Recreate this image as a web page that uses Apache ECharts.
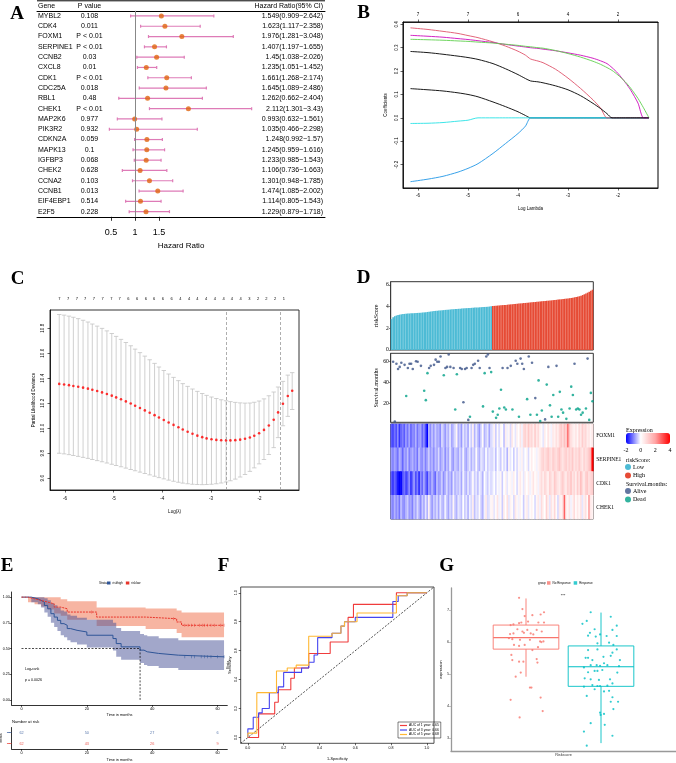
<!DOCTYPE html>
<html>
<head>
<meta charset="utf-8">
<title>Prognostic model figure</title>
<script src="https://cdn.jsdelivr.net/npm/echarts@6.0.0/dist/echarts.min.js"></script>
<style>
  html, body { margin: 0; padding: 0; background: #fff; }
  #fig { width: 676px; height: 763px; }
</style>
</head>
<body>
<div id="fig"></div>
<script>
var SANS = 'Liberation Sans, Arial, Helvetica, sans-serif';
var SERIF = 'Liberation Serif, Times New Roman, serif';

// ---------- A: univariate cox ----------
var coxGenes = ['MYBL2', 'CDK4', 'FOXM1', 'SERPINE1', 'CCNB2', 'CXCL8', 'CDK1', 'CDC25A', 'RBL1', 'CHEK1',
  'MAP2K6', 'PIK3R2', 'CDKN2A', 'MAPK13', 'IGFBP3', 'CHEK2', 'CCNA2', 'CCNB1', 'EIF4EBP1', 'E2F5'];
var coxP = ['0.108', '0.011', 'P < 0.01', 'P < 0.01', '0.03', '0.01', 'P < 0.01', '0.018', '0.48', 'P < 0.01',
  '0.977', '0.932', '0.059', '0.1', '0.068', '0.628', '0.103', '0.013', '0.514', '0.228'];
var coxHR = [1.549, 1.623, 1.976, 1.407, 1.45, 1.235, 1.661, 1.645, 1.262, 2.112,
  0.993, 1.035, 1.248, 1.245, 1.233, 1.106, 1.301, 1.474, 1.114, 1.229];
var coxLow = [0.909, 1.117, 1.281, 1.197, 1.038, 1.051, 1.268, 1.089, 0.662, 1.301,
  0.632, 0.466, 0.992, 0.959, 0.985, 0.736, 0.948, 1.085, 0.805, 0.879];
var coxHigh = [2.642, 2.358, 3.048, 1.655, 2.026, 1.452, 2.174, 2.486, 2.404, 3.43,
  1.561, 2.298, 1.57, 1.616, 1.543, 1.663, 1.785, 2.002, 1.543, 1.718];
var hrTicks = [0.5, 1, 1.5];

// ---------- B: lasso coefficient paths ----------
var lassoX = [-6.15, -5.8, -5.5, -5.2, -5.0, -4.8, -4.5, -4.25, -4.0, -3.85, -3.75, -3.6, -3.5,
  -3.25, -3.0, -2.75, -2.5, -2.35, -2.22, -2.12, -2.0, -1.85, -1.75, -1.6, -1.49, -1.38];
var coefBlack2 = [0.125, 0.12, 0.115, 0.107, 0.1, 0.09, 0.068, 0.048, 0.026, 0.01, 0, 0, 0,
  0, 0, 0, 0, 0, 0, 0, 0, 0, 0, 0, 0, 0];
var coefBlue = [-0.273, -0.262, -0.25, -0.232, -0.216, -0.196, -0.152, -0.11, -0.067, -0.035, 0, 0, 0,
  0, 0, 0, 0, 0, 0, 0, 0, 0, 0, 0, 0, 0];
var coefCyan = [-0.024, -0.023, -0.02, -0.014, -0.01, 0, 0, 0, 0, 0, 0, 0, 0,
  0, 0, 0, 0, 0, 0, 0, 0, 0, 0, 0, 0, 0];
var coefRed = [0.385, 0.378, 0.37, 0.361, 0.352, 0.343, 0.325, 0.307, 0.285, 0.268, 0.252, 0.243, 0.236,
  0.208, 0.17, 0.126, 0.077, 0.042, 0, 0, 0, 0, 0, 0, 0, 0];
var coefMagenta = [0.353, 0.349, 0.345, 0.339, 0.335, 0.33, 0.322, 0.314, 0.307, 0.303, 0.3, 0.297, 0.294,
  0.287, 0.278, 0.268, 0.255, 0.244, 0.232, 0.215, 0.19, 0.15, 0.12, 0.063, 0, 0];
var coefGreen = [0.336, 0.334, 0.332, 0.329, 0.327, 0.324, 0.32, 0.315, 0.31, 0.306, 0.304, 0.3, 0.298,
  0.288, 0.275, 0.26, 0.242, 0.229, 0.215, 0.203, 0.183, 0.153, 0.128, 0.083, 0.043, 0];
var coefBlack1 = [0.284, 0.279, 0.272, 0.264, 0.258, 0.25, 0.232, 0.21, 0.185, 0.168, 0.158, 0.154, 0.15,
  0.137, 0.12, 0.095, 0.062, 0.04, 0.018, 0, 0, 0, 0, 0, 0, 0];
var lassoTicks = [-6, -5, -4, -3, -2];
var lassoTopNz = [7, 7, 6, 4, 2];
var coefTicks = [-0.2, -0.1, 0, 0.1, 0.2, 0.3, 0.4];

// ---------- C: cross validation ----------
var cvX = [-6.12, -6.02, -5.92, -5.83, -5.73, -5.63, -5.53, -5.44, -5.34, -5.24,
  -5.14, -5.04, -4.95, -4.85, -4.75, -4.65, -4.56, -4.46, -4.36, -4.26,
  -4.16, -4.07, -3.97, -3.87, -3.77, -3.67, -3.58, -3.48, -3.38, -3.28,
  -3.18, -3.09, -2.99, -2.89, -2.79, -2.69, -2.60, -2.50, -2.40, -2.30,
  -2.20, -2.11, -2.01, -1.91, -1.81, -1.71, -1.62, -1.52, -1.42, -1.33];
var cvMean = [10.355, 10.35, 10.345, 10.338, 10.332, 10.325, 10.317, 10.308, 10.298, 10.287,
  10.274, 10.261, 10.247, 10.232, 10.215, 10.198, 10.18, 10.162, 10.143, 10.124,
  10.105, 10.086, 10.066, 10.046, 10.027, 10.008, 9.99, 9.972, 9.956, 9.941,
  9.929, 9.919, 9.912, 9.907, 9.904, 9.903, 9.903, 9.905, 9.909, 9.916,
  9.926, 9.94, 9.96, 9.987, 10.022, 10.068, 10.127, 10.196, 10.258, 10.3];
var cvUpper = [10.91, 10.905, 10.897, 10.888, 10.877, 10.864, 10.85, 10.834, 10.817, 10.799,
  10.779, 10.758, 10.735, 10.711, 10.686, 10.66, 10.633, 10.605, 10.577, 10.548,
  10.519, 10.49, 10.462, 10.434, 10.407, 10.381, 10.357, 10.335, 10.314, 10.295,
  10.278, 10.263, 10.25, 10.238, 10.228, 10.22, 10.213, 10.207, 10.203, 10.201,
  10.202, 10.208, 10.218, 10.235, 10.26, 10.29, 10.33, 10.375, 10.425, 10.445];
var cvLower = [9.8, 9.795, 9.789, 9.782, 9.775, 9.767, 9.759, 9.75, 9.741, 9.732,
  9.722, 9.712, 9.702, 9.692, 9.681, 9.67, 9.66, 9.649, 9.638, 9.627,
  9.616, 9.605, 9.595, 9.585, 9.576, 9.568, 9.561, 9.556, 9.552, 9.55,
  9.549, 9.55, 9.552, 9.556, 9.562, 9.57, 9.58, 9.593, 9.61, 9.63,
  9.655, 9.683, 9.715, 9.75, 9.79, 9.845, 9.925, 10.02, 10.095, 10.15];
var cvLambdaMin = -2.68;
var cvLambda1se = -1.57;
var cvTopX = [-6.12, -5.94, -5.76, -5.59, -5.41, -5.23, -5.05, -4.88, -4.70, -4.52,
  -4.34, -4.17, -3.99, -3.81, -3.63, -3.45, -3.28, -3.10, -2.92, -2.74,
  -2.57, -2.39, -2.21, -2.03, -1.86, -1.68, -1.50];
var cvTopNz = [7, 7, 7, 7, 7, 7, 7, 7, 6, 6, 6, 6, 6, 6, 4, 4, 4, 4, 4, 4, 4, 4, 3, 2, 2, 2, 1];
var cvTicks = [9.6, 9.8, 10.0, 10.2, 10.4, 10.6, 10.8];

// ---------- D: risk score, survival, heatmap ----------
var riskLow = [2.85, 3.02, 3.12, 3.18, 3.22, 3.26, 3.29, 3.31, 3.33, 3.35,
  3.36, 3.37, 3.38, 3.39, 3.40, 3.41, 3.42, 3.43, 3.44, 3.46,
  3.47, 3.49, 3.51, 3.53, 3.55, 3.57, 3.59, 3.61, 3.62, 3.64,
  3.65, 3.67, 3.68, 3.70, 3.71, 3.72, 3.74, 3.75, 3.76, 3.78,
  3.79, 3.80, 3.81, 3.83, 3.84, 3.85, 3.86, 3.87, 3.88, 3.89,
  3.90, 3.91, 3.92, 3.93, 3.94, 3.95, 3.96, 3.97, 3.98, 3.99,
  4.01, 4.03];
var riskHigh = [4.06, 4.07, 4.08, 4.10, 4.11, 4.12, 4.14, 4.15, 4.16, 4.18,
  4.19, 4.21, 4.22, 4.24, 4.25, 4.27, 4.28, 4.30, 4.31, 4.33,
  4.34, 4.36, 4.37, 4.39, 4.40, 4.42, 4.43, 4.45, 4.46, 4.48,
  4.49, 4.51, 4.52, 4.54, 4.55, 4.57, 4.58, 4.60, 4.62, 4.63,
  4.65, 4.67, 4.68, 4.70, 4.72, 4.74, 4.76, 4.78, 4.80, 4.83,
  4.86, 4.89, 4.92, 4.96, 5.01, 5.07, 5.14, 5.21, 5.29, 5.37,
  5.46, 5.56];
var aliveIdx = [1, 2, 3, 4, 5, 6, 8, 10, 11, 12, 13, 15, 16, 18, 23, 24, 26, 27, 28, 29,
  30, 33, 34, 35, 36, 38, 42, 43, 44, 45, 46, 47, 49, 50, 51, 53, 54, 58, 59, 60,
  68, 71, 73, 76, 77, 79, 80, 81, 84, 86, 88, 94, 96, 101, 112, 120];
var aliveMonths = [60, 2.5, 58, 53, 55, 59, 57, 54, 58, 58, 53, 60.5, 60, 56, 54, 56, 57, 62, 60, 60,
  65, 54, 55, 67, 55, 54, 54, 53, 21, 53, 54, 4, 54, 57, 58, 61, 54, 65, 67, 54,
  54, 54, 56, 61, 58, 63, 58, 53, 65, 59, 25, 4.5, 55, 56, 58, 63];
var deadIdx = [9, 20, 21, 22, 32, 39, 40, 48, 56, 57, 61, 62, 64, 65, 66, 67, 69, 70, 74, 78,
  83, 85, 89, 90, 91, 92, 95, 97, 98, 99, 102, 103, 104, 105, 107, 109, 110, 111, 113, 114,
  115, 116, 117, 119, 121, 122, 123];
var deadMonths = [27, 32, 23, 49, 47, 14, 48, 7, 17, 49, 50, 12, 6, 9, 15, 33, 16, 14, 14, 7,
  24, 9, 9, 42, 3, 13, 38, 18, 7, 28, 7, 31, 14, 11, 5, 15, 36, 28, 14, 15,
  14, 9, 11, 15, 4, 30, 22];
var survTicks = [20, 40, 60];
var heatGenes = ['FOXM1', 'SERPINE1', 'CDK1', 'CHEK1'];
var exprFOXM1 = [
  -1.3, -1.5, -1.1, -1.4, -0.9, -1.6, -1.2, -1.0, -1.3, -0.8,
  -1.1, -0.7, -1.2, -0.9, -1.0, -0.6, -1.1, -0.8, -0.7, -1.2,
  -0.9, -1.4, -2.0, -0.6, -0.9, -0.5, -0.8, -0.4, -0.7, -0.6,
  -0.9, -0.3, -0.5, -0.8, -0.4, -0.6, -0.2, -0.7, -0.5, -0.3,
  0.2, -0.6, -0.4, -0.8, -0.2, -0.5, -0.3, -0.7, -0.1, -0.4,
  0.3, -0.6, -0.2, -0.5, -0.8, -0.3, 0.1, -0.6, -0.4, -0.2,
  -0.7, -0.3,
  -0.2, 0.3, -0.4, 0.1, -0.3, 0.2, 0.0, -0.5, 0.4, -0.1,
  0.2, -0.3, 0.5, 0.1, -0.2, 0.3, 0.0, 0.6, -0.1, 0.8,
  1.0, 0.6, 1.2, 0.7, 0.9, 0.4, 1.1, 0.5, 0.8, 0.3,
  0.1, -0.2, 0.4, 0.0, 0.6, 0.2, -0.1, 0.5, 0.3, 0.7,
  0.4, 0.9, 1.2, 0.8, 1.4, 1.0, 2.6, 1.3, 0.7, 0.5,
  0.3, 0.6, 0.2, 0.8, 0.5, 1.1, 0.7, 0.9, 0.4, 0.6,
  0.2, 0.5];
var exprSERPINE1 = [
  -0.8, -1.0, -0.7, -0.9, -1.1, -0.6, -0.8, -1.2, -0.7, -0.9,
  -0.5, -1.0, -0.8, -0.6, -0.9, -0.7, -1.1, -0.5, -0.8, -0.9,
  -0.6, -1.0, -0.7, -0.4, -0.8, -0.6, -0.9, -0.5, -0.7, -0.3,
  -0.8, -0.6, -0.4, -0.9, -0.5, -0.7, -0.2, -0.6, -0.8, -0.4,
  -0.5, -0.7, -0.3, -0.6, -0.1, -0.5, -0.7, -0.4, -0.2, -0.6,
  -0.3, -0.5, 0.1, -0.4, -0.6, -0.2, -0.3, -0.5, 0.0, -0.4,
  -0.2, -0.3,
  -0.3, -0.1, -0.5, 0.0, -0.2, -0.4, 0.1, -0.3, -0.1, -0.6,
  0.2, -0.2, 0.0, -0.4, 0.1, -0.3, 0.2, -0.1, 0.3, -0.2,
  0.0, 0.2, -0.3, 0.1, 0.4, 0.0, 0.2, -0.1, 0.3, 0.5,
  0.8, 1.0, 0.7, 0.9, 1.2, 0.8, 0.6, 1.1, 0.9, 0.7,
  1.0, 1.3, 0.8, 0.6, 0.9, 1.1, 0.7, 1.0, 0.8, 1.2,
  0.6, 0.9, 0.7, 1.1, 0.8, 0.5, 1.0, 0.7, 0.9, 1.2,
  1.6, 4.0];
var exprCDK1 = [
  -1.3, -1.6, -1.2, -1.5, -1.8, -2.3, -2.0, -1.4, -1.1, -1.5,
  -1.3, -0.9, -1.6, -1.2, -0.8, -1.4, -1.0, -1.7, -0.9, -1.2,
  -0.7, -1.1, -1.5, -0.8, -1.0, -0.6, -0.9, -1.2, -0.5, -0.8,
  -0.7, -0.4, -0.9, -0.6, -0.3, -0.7, -0.5, -0.8, -0.2, -0.6,
  -0.4, -0.5, -0.3, -0.7, -0.1, -0.4, -0.6, -0.2, -0.5, -0.3,
  0.1, -0.4, -0.2, -0.5, -0.1, -0.3, -0.6, 0.0, -0.2, -0.4,
  -0.1, -0.3,
  -0.2, 0.0, -0.3, 0.1, -0.1, 0.2, -0.4, 0.0, 0.3, -0.2,
  0.1, 0.2, -0.1, 0.4, 0.0, -0.3, 0.2, 0.5, 0.1, -0.2,
  0.3, 0.0, 0.4, -0.1, 0.2, 0.6, 0.1, 0.3, -0.1, 0.5,
  0.8, 0.4, 0.9, 0.6, 0.3, 1.0, 0.7, 0.5, 1.2, 0.8,
  0.6, 0.4, 0.9, 1.1, 0.7, 0.5, 1.0, 0.8, 1.3, 0.6,
  0.9, 0.4, 1.1, 0.7, 1.4, 0.8, 0.5, 1.0, 1.2, 0.7,
  0.9, 1.1];
var exprCHEK1 = [
  -0.8, -1.0, -0.6, -0.9, -0.7, -1.1, -0.5, -0.8, -0.9, -0.6,
  -0.4, -0.8, -0.7, -1.0, -0.5, -0.7, -0.3, -0.6, -0.9, -0.4,
  -0.7, -0.2, -0.6, 0.3, -0.5, -0.8, -0.4, -0.6, -0.3, -0.7,
  -0.2, -0.5, -0.6, -0.1, -0.4, -0.7, -0.3, -0.5, 0.2, -0.4,
  -0.6, -0.2, -0.3, -0.5, 0.0, -0.4, -0.2, -0.6, -0.1, -0.3,
  0.4, -0.5, -0.2, -0.3, 0.1, -0.4, -0.6, -0.1, 0.5, -0.3,
  -0.2, 0.2,
  0.3, -0.2, 0.1, 0.6, -0.1, 0.2, -0.4, 0.4, 0.0, 0.7,
  -0.2, 0.3, 0.1, -0.3, 0.5, 0.2, -0.1, 0.3, 0.0, -0.4,
  0.2, 0.4, -0.2, 0.1, 0.3, 0.0, -0.3, 0.2, 0.5, -0.1,
  0.8, 0.3, 0.0, 1.0, 0.4, -0.2, 0.6, 0.2, 0.9, 0.1,
  -0.3, 0.5, 0.3, 0.7, 2.8, 0.4, 0.2, 0.6, -0.1, 0.3,
  0.8, 0.1, 0.5, 0.2, 0.6, -0.2, 0.4, 0.7, 0.1, 2.0,
  0.5, 0.3];
var exprTicks = [-2, 0, 2, 4];

// ---------- E: Kaplan-Meier ----------
var highT = [0, 3, 5, 6, 7, 8, 9, 10, 11, 12, 13, 14, 15, 17, 20, 28, 29, 30.5, 36.3, 37.5, 38.5, 42, 48];
var highS = [1.0, 0.984, 0.968, 0.952, 0.919, 0.887, 0.839, 0.806, 0.774, 0.742, 0.726, 0.694, 0.677,
  0.661, 0.629, 0.597, 0.548, 0.516, 0.484, 0.468, 0.452, 0.435, 0.419];
var highUp = [1.0, 1.0, 1.0, 1.0, 0.99, 0.97, 0.94, 0.92, 0.9, 0.87, 0.86, 0.83, 0.82,
  0.8, 0.78, 0.75, 0.7, 0.67, 0.64, 0.63, 0.62, 0.6, 0.58];
var highLo = [1.0, 0.95, 0.93, 0.9, 0.85, 0.81, 0.75, 0.71, 0.67, 0.63, 0.61, 0.58, 0.56,
  0.54, 0.51, 0.48, 0.42, 0.39, 0.36, 0.34, 0.33, 0.31, 0.29];
var lowT = [0, 2, 4, 6, 8, 10, 12, 14, 23, 38, 47.5, 49];
var lowS = [1.0, 0.984, 0.968, 0.952, 0.935, 0.903, 0.887, 0.855, 0.806, 0.79, 0.758, 0.726];
var lowUp = [1.0, 1.0, 1.0, 1.0, 1.0, 1.0, 0.98, 0.96, 0.9, 0.89, 0.87, 0.85];
var lowLo = [1.0, 0.95, 0.93, 0.91, 0.88, 0.84, 0.82, 0.78, 0.72, 0.69, 0.65, 0.61];
var kmEnd = 62;
var highCensor = [50, 52, 53, 55, 56, 57, 58, 60, 62];
var lowCensor = [21.5, 46.5, 50, 51, 52, 53, 54.5, 55.5, 56, 57, 58, 59, 61, 62];
var medianHigh = 36.3;
var riskTimes = [0, 20, 40, 60];
var highAtRisk = [62, 50, 27, 6];
var lowAtRisk = [62, 43, 26, 9];
var survProbTicks = [0, 0.25, 0.5, 0.75, 1];

// ---------- F: time dependent ROC ----------
var roc1 = [[0, 0], [0.06, 0], [0.06, 0.163], [0.15, 0.163], [0.15, 0.244], [0.17, 0.244], [0.17, 0.33],
  [0.24, 0.33], [0.24, 0.41], [0.26, 0.41], [0.26, 0.48], [0.34, 0.48], [0.34, 0.58], [0.46, 0.58],
  [0.46, 0.66], [0.56, 0.66], [0.56, 0.83], [0.59, 0.83], [0.59, 0.92], [0.83, 0.92], [0.83, 1], [1, 1]];
var roc3 = [[0, 0], [0, 0.06], [0.03, 0.06], [0.03, 0.14], [0.06, 0.14], [0.06, 0.17], [0.08, 0.17],
  [0.08, 0.2], [0.12, 0.2], [0.12, 0.31], [0.17, 0.31], [0.17, 0.35], [0.2, 0.35], [0.2, 0.45],
  [0.3, 0.45], [0.3, 0.48], [0.34, 0.48], [0.34, 0.52], [0.37, 0.52], [0.37, 0.57], [0.39, 0.57],
  [0.39, 0.69], [0.47, 0.69], [0.47, 0.72], [0.52, 0.72], [0.52, 0.77], [0.54, 0.77], [0.54, 0.8],
  [0.6, 0.8], [0.6, 0.83], [0.81, 0.83], [0.81, 0.94], [0.84, 0.94], [0.84, 0.98], [0.89, 0.98],
  [0.89, 1], [1, 1]];
var roc5 = [[0, 0], [0, 0.03], [0.05, 0.03], [0.05, 0.31], [0.16, 0.31], [0.16, 0.46], [0.22, 0.46],
  [0.22, 0.48], [0.27, 0.48], [0.27, 0.5], [0.34, 0.5], [0.34, 0.7], [0.47, 0.7], [0.47, 0.72],
  [0.52, 0.72], [0.52, 0.77], [0.54, 0.77], [0.54, 0.8], [0.61, 0.8], [0.61, 0.86], [0.83, 0.86],
  [0.83, 0.98], [0.89, 0.98], [0.89, 1], [1, 1]];
var rocNames = ['AUC of 1 year: 0.65', 'AUC of 3 year: 0.66', 'AUC of 5 year: 0.68'];
var rocTicks = [0, 0.2, 0.4, 0.6, 0.8, 1.0];

// ---------- G: risk score by response ----------
var groupNames = ['No Response', 'Response'];
var groupPos = [0.8, 1.2];
var noRespBox = [4.92, 5.78, 6.14, 6.53, 7.36];
var respBox = [2.85, 4.62, 5.23, 5.88, 6.92];
var noRespJit = [-0.037, -0.019, -0.007, 0.034, 0.078, 0.096, -0.025, -0.037, -0.082, -0.067,
  0.011, 0.066, 0.096, -0.046, -0.019, 0.007, 0.057, -0.085, -0.067, -0.011,
  0.025, 0.039, 0.084, -0.091, -0.073, -0.032, 0.021, 0.075, 0.082, 0.093,
  -0.064, -0.037, -0.007, 0.064, 0.034, -0.078, -0.073, -0.037, -0.014, 0.057,
  0.061, -0.028, -0.055, 0.021, 0.029, -0.082, 0.078, 0.089, -0.034];
var noRespExpr = [7.38, 7.03, 6.81, 6.84, 6.86, 6.93, 6.61, 6.59, 6.53, 6.55,
  6.64, 6.61, 6.61, 6.40, 6.33, 6.38, 6.38, 6.25, 6.27, 6.29,
  6.27, 6.24, 6.33, 6.12, 6.09, 6.07, 6.07, 6.02, 6.00, 6.02,
  5.91, 5.88, 5.91, 5.84, 5.75, 5.60, 5.44, 5.39, 5.39, 5.47,
  5.36, 5.05, 4.92, 4.58, 4.58, 4.20, 4.27, 3.85, 3.65];
var respJit = [-0.055, 0.052, -0.076, -0.099, 0.084, -0.034, 0.061, -0.059, -0.069, -0.028,
  -0.005, 0.030, 0.084, 0.043, -0.019, 0.066, -0.069, -0.019, 0.084, 0.061,
  -0.082, -0.069, 0.013, 0.052, -0.046, 0.101, 0.016, -0.055, -0.023, -0.005,
  0.034, 0.096, -0.091, -0.034, -0.019, 0.007, -0.069, 0.087, -0.087, -0.055,
  -0.011, 0.048, 0.061, -0.046, -0.019, -0.005, 0.034, -0.091, -0.034, 0.016,
  0.043, -0.076, 0.061, 0.091, 0.052, 0.066, -0.005, -0.002, 0.016, -0.055,
  0.020, -0.091, 0.061, -0.076];
var respExpr = [6.93, 6.79, 6.66, 6.57, 6.51, 6.40, 6.38, 6.29, 6.20, 6.17,
  6.24, 6.19, 6.19, 5.98, 5.96, 5.91, 5.75, 5.77, 5.77, 5.67,
  5.51, 5.51, 5.54, 5.57, 5.44, 5.44, 5.34, 5.28, 5.28, 5.26,
  5.28, 5.25, 5.21, 5.10, 5.10, 5.13, 5.06, 5.05, 4.87, 4.84,
  4.82, 4.84, 4.71, 4.66, 4.63, 4.63, 4.64, 4.61, 4.53, 4.46,
  4.48, 4.32, 4.28, 4.14, 4.14, 3.91, 3.80, 3.73, 3.76, 3.47,
  3.42, 3.21, 3.08, 2.77];
var exprAxisTicks = [3, 4, 5, 6, 7];

// ---------- helpers ----------
function merge(a, b) {
  for (var k in b) {
    if (b[k] && typeof b[k] === 'object' && !Array.isArray(b[k]) && a[k] && typeof a[k] === 'object') {
      merge(a[k], b[k]);
    } else {
      a[k] = b[k];
    }
  }
  return a;
}
function ax(o) {
  var base = {
    splitLine: {show: false},
    axisLine: {show: true, onZero: false, lineStyle: {color: '#000', width: 0.8}},
    axisTick: {show: true, length: 2, lineStyle: {color: '#000', width: 0.6}},
    axisLabel: {fontSize: 4.5, color: '#000', fontFamily: SANS, margin: 3},
    nameTextStyle: {fontSize: 4.5, color: '#000', fontFamily: SANS}
  };
  return merge(base, o);
}
function ticks(list, extra) {
  return merge({axisTick: {customValues: list}, axisLabel: {customValues: list}}, extra || {});
}
function pairs(xs, ys) {
  return xs.map(function (x, i) { return [x, ys[i]]; });
}
function stepAt(T, S, t) {
  var v = S[0];
  for (var i = 0; i < T.length; i++) { if (T[i] <= t) v = S[i]; }
  return v;
}

var patientIdx = [];
for (var p = 0; p < riskLow.length + riskHigh.length; p++) patientIdx.push(p);

// ---------- grids ----------
var grids = [
  {left: 37, top: 10.8, width: 288, height: 206},                       // 0 A
  {left: 403, top: 22, width: 255, height: 166, show: true, borderColor: '#000', borderWidth: 1}, // 1 B
  {left: 50, top: 310, width: 249, height: 180, show: true, borderColor: '#333', borderWidth: 1}, // 2 C
  {left: 390.7, top: 281.7, width: 202.6, height: 68.3, show: true, borderColor: '#333', borderWidth: 1}, // 3 D bars
  {left: 390.7, top: 353.3, width: 202.6, height: 69, show: true, borderColor: '#333', borderWidth: 1},   // 4 D scatter
  {left: 390.7, top: 424, width: 202.6, height: 95, show: true, borderColor: '#333', borderWidth: 1},     // 5 D heat
  {left: 626, top: 444, width: 44, height: 1},                          // 6 D scale
  {left: 11.7, top: 592, width: 215.6, height: 113},                    // 7 E
  {left: 11.7, top: 727.5, width: 215.6, height: 21.5},                 // 8 E table
  {left: 240.7, top: 587, width: 193.3, height: 156.3, show: true, borderColor: '#222', borderWidth: 0.8}, // 9 F
  {left: 451, top: 588, width: 225, height: 163}                        // 10 G
];
grids.forEach(function (g) { g.outerBoundsMode = 'none'; g.containLabel = false; });

// ---------- axes ----------
var xAxes = [
  ax(merge(ticks(hrTicks), {type: 'value', gridIndex: 0, min: -1.0417, max: 4.9583,
    axisLine: {lineStyle: {width: 1}}, axisTick: {length: 4, lineStyle: {width: 0.8}},
    axisLabel: {fontSize: 9, margin: 11},
    name: 'Hazard Ratio', nameLocation: 'middle', nameGap: 25, nameTextStyle: {fontSize: 8}})),
  ax({type: 'value', gridIndex: 0, position: 'top', min: -1.0417, max: 4.9583,
    axisLine: {lineStyle: {width: 1}}, axisTick: {show: false}, axisLabel: {show: false}}),
  ax(merge(ticks(lassoTicks), {type: 'value', gridIndex: 1, min: -6.3, max: -1.2,
    axisTick: {length: 2.5}, axisLabel: {margin: 5},
    name: 'Log Lambda', nameLocation: 'middle', nameGap: 18})),
  ax(merge(ticks(lassoTicks), {type: 'value', gridIndex: 1, position: 'top', min: -6.3, max: -1.2,
    axisTick: {length: 2.5}, axisLabel: {margin: 5, formatter: function (v) {
      var i = lassoTicks.indexOf(v); return i < 0 ? '' : String(lassoTopNz[i]);
    }}})),
  ax(merge(ticks(lassoTicks), {type: 'value', gridIndex: 2, min: -6.31, max: -1.19,
    axisTick: {length: 2.5}, axisLabel: {margin: 6},
    name: 'Log(\u03bb)', nameLocation: 'middle', nameGap: 19})),
  ax(merge(ticks(cvTopX), {type: 'value', gridIndex: 2, position: 'top', min: -6.31, max: -1.19,
    axisLine: {show: false}, axisTick: {show: false},
    axisLabel: {margin: 9, fontSize: 4, formatter: function (v) {
      var i = cvTopX.indexOf(v); return i < 0 ? '' : String(cvTopNz[i]);
    }}})),
  {type: 'category', gridIndex: 3, data: patientIdx, show: false},
  {type: 'value', gridIndex: 4, min: -0.5, max: patientIdx.length - 0.5, show: false, splitLine: {show: false}},
  {type: 'category', gridIndex: 5, data: patientIdx, show: false},
  ax(merge(ticks(exprTicks), {type: 'value', gridIndex: 6, min: -2, max: 4,
    axisLine: {show: false}, axisTick: {length: 2, inside: true, lineStyle: {color: '#fff', width: 0.8}},
    axisLabel: {fontFamily: SERIF, fontSize: 6, margin: 2}})),
  ax(merge(ticks(riskTimes), {type: 'value', gridIndex: 7, min: -3, max: 63,
    axisLabel: {fontSize: 3.8, margin: 2},
    name: 'Time in months', nameLocation: 'middle', nameGap: 8, nameTextStyle: {fontSize: 3.8}})),
  ax(merge(ticks(riskTimes), {type: 'value', gridIndex: 8, min: -3, max: 63,
    axisLabel: {fontSize: 3.8, margin: 2},
    name: 'Time in months', nameLocation: 'middle', nameGap: 9, nameTextStyle: {fontSize: 3.8}})),
  ax(merge(ticks(rocTicks), {type: 'value', gridIndex: 9, min: -0.04, max: 1.04,
    axisLine: {show: false}, axisLabel: {fontSize: 3.6, margin: 3, formatter: function (v) { return v.toFixed(1); }},
    name: '1-Specificity', nameLocation: 'middle', nameGap: 14, nameTextStyle: {fontSize: 3.8}})),
  ax(merge(ticks([1]), {type: 'value', gridIndex: 10, min: 0.4, max: 1.6,
    axisLine: {lineStyle: {color: '#999', width: 1.3}}, axisTick: {lineStyle: {color: '#999'}},
    axisLabel: {fontSize: 3.8, color: '#333', margin: 2, formatter: function () { return 'Riskscore'; }}}))
];

var yAxes = [
  {type: 'category', gridIndex: 0, data: coxGenes, inverse: true,
    axisLine: {show: false}, axisTick: {show: false}, splitLine: {show: false},
    axisLabel: {inside: true, margin: 1, align: 'left', fontSize: 7, color: '#000', fontFamily: SANS}},
  {type: 'category', gridIndex: 0, data: coxGenes, inverse: true, position: 'right',
    axisLine: {show: false}, axisTick: {show: false}, splitLine: {show: false},
    axisLabel: {inside: true, margin: 2, align: 'right', fontSize: 7, color: '#000', fontFamily: SANS,
      formatter: function (v, i) { return coxHR[i] + '(' + coxLow[i] + '\u2212' + coxHigh[i] + ')'; }}},
  {type: 'category', gridIndex: 0, data: coxGenes, inverse: true, position: 'left', offset: -52.5,
    axisLine: {show: false}, axisTick: {show: false}, splitLine: {show: false},
    axisLabel: {margin: 0, align: 'center', fontSize: 7, color: '#000', fontFamily: SANS,
      formatter: function (v, i) { return coxP[i]; }}},
  ax(merge(ticks(coefTicks), {type: 'value', gridIndex: 1, min: -0.3, max: 0.41,
    axisTick: {length: 2.5}, axisLabel: {rotate: 90, margin: 4, formatter: function (v) { return v.toFixed(1); }},
    name: 'Coefficients', nameLocation: 'middle', nameGap: 15})),
  ax(merge(ticks(cvTicks), {type: 'value', gridIndex: 2, min: 9.506, max: 10.946,
    axisTick: {length: 2.5}, axisLabel: {rotate: 90, margin: 5, formatter: function (v) { return v.toFixed(1); }},
    name: 'Partial Likelihood Deviance', nameLocation: 'middle', nameGap: 14})),
  ax(merge(ticks([0, 2, 4, 6]), {type: 'value', gridIndex: 3, min: 0, max: 6.3,
    axisLine: {lineStyle: {color: '#333'}}, axisTick: {lineStyle: {color: '#333'}},
    axisLabel: {fontFamily: SERIF, fontSize: 5.5, margin: 2},
    name: 'riskScore', nameLocation: 'middle', nameGap: 11, nameTextStyle: {fontFamily: SERIF, fontSize: 6}})),
  ax(merge(ticks(survTicks), {type: 'value', gridIndex: 4, min: 1.7, max: 68.1,
    axisLine: {lineStyle: {color: '#333'}}, axisTick: {lineStyle: {color: '#333'}},
    axisLabel: {fontFamily: SERIF, fontSize: 5.5, margin: 2},
    name: 'Survival.months', nameLocation: 'middle', nameGap: 10, nameTextStyle: {fontFamily: SERIF, fontSize: 6}})),
  {type: 'category', gridIndex: 5, data: heatGenes, inverse: true, position: 'right',
    axisLine: {show: false}, axisTick: {show: false}, splitLine: {show: false},
    axisLabel: {fontFamily: SERIF, fontSize: 5.5, color: '#000', margin: 3}},
  {type: 'value', gridIndex: 6, show: false, splitLine: {show: false}},
  ax(merge(ticks(survProbTicks), {type: 'value', gridIndex: 7, min: -0.05, max: 1.05,
    axisLabel: {fontSize: 3.6, margin: 2, formatter: function (v) { return v.toFixed(2); }},
    name: 'Survival probability', nameLocation: 'middle', nameGap: 8, nameTextStyle: {fontSize: 3.6}})),
  ax({type: 'category', gridIndex: 8, data: ['riskhigh', 'risklow'], inverse: true,
    axisTick: {show: false},
    axisLabel: {margin: 1, formatter: function (v) { return v === 'riskhigh' ? '{h|\u2501\u2501}' : '{l|\u2501\u2501}'; },
      rich: {h: {color: '#2f5597', fontSize: 4}, l: {color: '#e8342a', fontSize: 4}}},
    name: 'Strata', nameLocation: 'middle', nameGap: 7, nameTextStyle: {fontSize: 3.6}}),
  ax(merge(ticks(rocTicks), {type: 'value', gridIndex: 9, min: -0.04, max: 1.04,
    axisLine: {show: false}, axisLabel: {fontSize: 3.6, rotate: 90, margin: 3, formatter: function (v) { return v.toFixed(1); }},
    name: 'Sensitivity', nameLocation: 'middle', nameGap: 9, nameTextStyle: {fontSize: 3.8}})),
  ax(merge(ticks(exprAxisTicks), {type: 'value', gridIndex: 10, min: 2.604, max: 7.686,
    axisLine: {lineStyle: {color: '#999', width: 1.3}}, axisTick: {lineStyle: {color: '#999'}},
    axisLabel: {fontSize: 3.8, color: '#333', margin: 2},
    name: 'expression', nameLocation: 'middle', nameGap: 7, nameTextStyle: {fontSize: 3.8}}))
];

// ---------- series ----------
var series = [];

// A
series.push({
  type: 'custom', xAxisIndex: 0, yAxisIndex: 0, silent: true,
  encode: {x: [0, 1], y: 2},
  data: coxGenes.map(function (g, i) { return [coxLow[i], coxHigh[i], i]; }),
  renderItem: function (params, api) {
    var y = api.value(2);
    var a = api.coord([api.value(0), y]);
    var b = api.coord([api.value(1), y]);
    var st = {stroke: '#de7bb7', lineWidth: 1.2};
    return {type: 'group', children: [
      {type: 'line', shape: {x1: a[0], y1: a[1], x2: b[0], y2: b[1]}, style: st},
      {type: 'line', shape: {x1: a[0], y1: a[1] - 1.5, x2: a[0], y2: a[1] + 1.5}, style: st},
      {type: 'line', shape: {x1: b[0], y1: b[1] - 1.5, x2: b[0], y2: b[1] + 1.5}, style: st}
    ]};
  }
});
series.push({
  type: 'scatter', xAxisIndex: 0, yAxisIndex: 0, silent: true, z: 3,
  symbolSize: 5, itemStyle: {color: '#e0640f'},
  data: coxHR.map(function (v, i) { return [v, i]; }),
  markLine: {silent: true, symbol: 'none', label: {show: false},
    lineStyle: {color: '#888', type: 'solid', width: 1}, data: [{xAxis: 1}]}
});

// B
var lassoPaths = [
  {v: coefBlack2, c: '#000000'}, {v: coefBlue, c: '#2297e6'}, {v: coefCyan, c: '#28e2e5'},
  {v: coefRed, c: '#df536b'}, {v: coefMagenta, c: '#cd0bbc'}, {v: coefGreen, c: '#61d04f'},
  {v: coefBlack1, c: '#000000'}
];
lassoPaths.forEach(function (pth) {
  series.push({type: 'line', xAxisIndex: 2, yAxisIndex: 3, silent: true, symbol: 'none', smooth: 0.25,
    data: pairs(lassoX, pth.v), lineStyle: {color: pth.c, width: 0.9}});
});

// C
series.push({
  type: 'custom', xAxisIndex: 4, yAxisIndex: 4, silent: true,
  encode: {x: 0, y: [1, 2]},
  data: cvX.map(function (x, i) { return [x, cvLower[i], cvUpper[i]]; }),
  renderItem: function (params, api) {
    var a = api.coord([api.value(0), api.value(1)]);
    var b = api.coord([api.value(0), api.value(2)]);
    var st = {stroke: '#c4c4c4', lineWidth: 0.8};
    return {type: 'group', children: [
      {type: 'line', shape: {x1: a[0], y1: a[1], x2: b[0], y2: b[1]}, style: st},
      {type: 'line', shape: {x1: a[0] - 2.2, y1: a[1], x2: a[0] + 2.2, y2: a[1]}, style: st},
      {type: 'line', shape: {x1: b[0] - 2.2, y1: b[1], x2: b[0] + 2.2, y2: b[1]}, style: st}
    ]};
  },
  markLine: {silent: true, symbol: 'none', label: {show: false},
    lineStyle: {color: '#999', type: [3, 2], width: 0.8},
    data: [{xAxis: cvLambdaMin}, {xAxis: cvLambda1se}]}
});
series.push({type: 'scatter', xAxisIndex: 4, yAxisIndex: 4, silent: true, z: 3,
  symbolSize: 2.6, itemStyle: {color: '#ff0000'}, data: pairs(cvX, cvMean)});

// D bars
var blanksLow = riskLow.map(function () { return '-'; });
var blanksHigh = riskHigh.map(function () { return '-'; });
series.push({type: 'bar', name: 'Low', xAxisIndex: 6, yAxisIndex: 5, silent: true,
  barCategoryGap: 0, barGap: '-100%', itemStyle: {color: '#4dbbd5'},
  data: riskLow.concat(blanksHigh)});
series.push({type: 'bar', name: 'High', xAxisIndex: 6, yAxisIndex: 5, silent: true,
  barCategoryGap: 0, barGap: '-100%', itemStyle: {color: '#e64b35'},
  data: blanksLow.concat(riskHigh)});
// D scatter
series.push({type: 'scatter', name: 'Alive', xAxisIndex: 7, yAxisIndex: 6, silent: true,
  symbolSize: 2.6, itemStyle: {color: '#3c5488'}, data: pairs(aliveIdx, aliveMonths)});
series.push({type: 'scatter', name: 'Dead', xAxisIndex: 7, yAxisIndex: 6, silent: true,
  symbolSize: 2.6, itemStyle: {color: '#00a087'}, data: pairs(deadIdx, deadMonths)});
// D heatmap
var heatRows = [exprFOXM1, exprSERPINE1, exprCDK1, exprCHEK1];
var heatData = [];
heatRows.forEach(function (row, r) {
  row.forEach(function (v, c) { heatData.push([c, r, v]); });
});
var heatIdx = series.length;
series.push({type: 'heatmap', xAxisIndex: 8, yAxisIndex: 7, silent: true, data: heatData,
  itemStyle: {borderWidth: 0}});

// E bands
function kmBand(T, up, lo, color) {
  return {
    type: 'custom', xAxisIndex: 10, yAxisIndex: 9, silent: true, z: 1,
    data: [[0, 0]],
    renderItem: function (params, api) {
      var top = [], bot = [];
      for (var i = 0; i < T.length; i++) {
        var tn = i < T.length - 1 ? T[i + 1] : kmEnd;
        top.push(api.coord([T[i], up[i]]), api.coord([tn, up[i]]));
        bot.push(api.coord([T[i], lo[i]]), api.coord([tn, lo[i]]));
      }
      return {type: 'polygon', shape: {points: top.concat(bot.reverse())}, style: {fill: color}};
    }
  };
}
function kmLine(T, S) {
  return pairs(T, S).concat([[kmEnd, S[S.length - 1]]]);
}
series.push(kmBand(lowT, lowUp, lowLo, 'rgba(240,120,85,0.55)'));
series.push(kmBand(highT, highUp, highLo, 'rgba(70,80,150,0.5)'));
series.push({type: 'line', name: 'riskhigh', xAxisIndex: 10, yAxisIndex: 9, silent: true, z: 3,
  step: 'end', symbol: 'none', data: kmLine(highT, highS),
  lineStyle: {color: '#2f5597', width: 1}, itemStyle: {color: '#2f5597'}});
series.push({type: 'line', name: 'risklow', xAxisIndex: 10, yAxisIndex: 9, silent: true, z: 3,
  step: 'end', symbol: 'none', data: kmLine(lowT, lowS),
  lineStyle: {color: '#e8342a', width: 1, type: [2, 1]}, itemStyle: {color: '#e8342a'}});
series.push({type: 'scatter', xAxisIndex: 10, yAxisIndex: 9, silent: true, z: 4,
  symbol: 'rect', symbolSize: [0.6, 3], itemStyle: {color: '#2f5597'},
  data: highCensor.map(function (t) { return [t, stepAt(highT, highS, t)]; })});
series.push({type: 'scatter', xAxisIndex: 10, yAxisIndex: 9, silent: true, z: 4,
  symbol: 'rect', symbolSize: [0.6, 3], itemStyle: {color: '#e8342a'},
  data: lowCensor.map(function (t) { return [t, stepAt(lowT, lowS, t)]; })});
series.push({type: 'line', xAxisIndex: 10, yAxisIndex: 9, silent: true, z: 2, symbol: 'none',
  data: [[0, 0.5], [medianHigh, 0.5], [medianHigh, 0]],
  lineStyle: {color: '#000', width: 0.7, type: [2, 1.5]}});
// E risk table
series.push({type: 'scatter', xAxisIndex: 11, yAxisIndex: 10, silent: true, symbolSize: 0,
  data: riskTimes.map(function (t, i) { return [t, 0, highAtRisk[i]]; }),
  label: {show: true, position: 'inside', fontSize: 3.8, color: '#2f5597',
    formatter: function (p) { return p.value[2]; }}});
series.push({type: 'scatter', xAxisIndex: 11, yAxisIndex: 10, silent: true, symbolSize: 0,
  data: riskTimes.map(function (t, i) { return [t, 1, lowAtRisk[i]]; }),
  label: {show: true, position: 'inside', fontSize: 3.8, color: '#e8342a',
    formatter: function (p) { return p.value[2]; }}});

// F
series.push({type: 'line', xAxisIndex: 12, yAxisIndex: 11, silent: true, symbol: 'none',
  data: [[-0.04, -0.04], [1.04, 1.04]], lineStyle: {color: '#000', width: 0.7, type: [2, 1.5]}});
var rocSets = [roc1, roc3, roc5];
var rocColors = ['#f03c3c', '#4444f0', '#ffb833'];
rocSets.forEach(function (d, k) {
  series.push({type: 'line', name: rocNames[k], xAxisIndex: 12, yAxisIndex: 11, silent: true,
    symbol: 'none', data: d, lineStyle: {color: rocColors[k], width: 1.1}, itemStyle: {color: rocColors[k]}});
});

// G
var groupColors = ['#f8766d', '#00bfc4'];
var boxWidth = 0.35;
series.push({
  type: 'custom', xAxisIndex: 13, yAxisIndex: 12, silent: true, z: 2,
  encode: {x: 0, y: [1, 2, 3, 4, 5]},
  data: [[groupPos[0]].concat(noRespBox), [groupPos[1]].concat(respBox)],
  renderItem: function (params, api) {
    var x = api.value(0);
    var hw = api.size([boxWidth, 0])[0] / 2;
    var pMin = api.coord([x, api.value(1)]);
    var pQ1 = api.coord([x, api.value(2)]);
    var pMed = api.coord([x, api.value(3)]);
    var pQ3 = api.coord([x, api.value(4)]);
    var pMax = api.coord([x, api.value(5)]);
    var col = groupColors[params.dataIndex];
    var st = {stroke: col, lineWidth: 0.9, fill: 'transparent'};
    return {type: 'group', children: [
      {type: 'line', shape: {x1: pMax[0], y1: pMax[1], x2: pQ3[0], y2: pQ3[1]}, style: st},
      {type: 'line', shape: {x1: pQ1[0], y1: pQ1[1], x2: pMin[0], y2: pMin[1]}, style: st},
      {type: 'rect', shape: {x: pQ3[0] - hw, y: pQ3[1], width: hw * 2, height: pQ1[1] - pQ3[1]}, style: st},
      {type: 'line', shape: {x1: pMed[0] - hw, y1: pMed[1], x2: pMed[0] + hw, y2: pMed[1]},
        style: {stroke: col, lineWidth: 1.2}}
    ]};
  }
});
series.push({type: 'scatter', name: groupNames[0], xAxisIndex: 13, yAxisIndex: 12, silent: true, z: 3,
  symbolSize: 2.2, itemStyle: {color: groupColors[0]},
  data: noRespJit.map(function (j, i) { return [groupPos[0] + j, noRespExpr[i]]; })});
series.push({type: 'scatter', name: groupNames[1], xAxisIndex: 13, yAxisIndex: 12, silent: true, z: 3,
  symbolSize: 2.2, itemStyle: {color: groupColors[1]},
  data: respJit.map(function (j, i) { return [groupPos[1] + j, respExpr[i]]; })});

// ---------- text / decoration ----------
function label(x, y, text, font, opts) {
  return merge({type: 'text', x: x, y: y, silent: true,
    style: {text: text, font: font, fill: '#000', textAlign: 'left', textVerticalAlign: 'middle'}}, opts || {});
}
var panelFont = 'bold 19px ' + SERIF;
var graphics = [
  label(17, 14, 'A', panelFont, {style: {textAlign: 'center'}}),
  label(363.5, 13, 'B', panelFont, {style: {textAlign: 'center'}}),
  label(17.5, 279, 'C', panelFont, {style: {textAlign: 'center'}}),
  label(363.5, 278.5, 'D', panelFont, {style: {textAlign: 'center'}}),
  label(7, 566, 'E', panelFont, {style: {textAlign: 'center'}}),
  label(223.5, 566, 'F', panelFont, {style: {textAlign: 'center'}}),
  label(446.7, 566.5, 'G', panelFont, {style: {textAlign: 'center'}}),
  {type: 'line', silent: true, shape: {x1: 37, y1: 0.8, x2: 325, y2: 0.8}, style: {stroke: '#000', lineWidth: 1}},
  label(38, 5.8, 'Gene', '7px ' + SANS),
  label(89.5, 5.8, 'P value', '7px ' + SANS, {style: {textAlign: 'center'}}),
  label(323, 5.8, 'Hazard Ratio(95% CI)', '7px ' + SANS, {style: {textAlign: 'right'}}),
  label(626, 430, 'Expression', '6px ' + SERIF),
  label(626, 460.5, 'riskScore:', '6px ' + SERIF),
  label(626, 484.5, 'Survival.months:', '6px ' + SERIF),
  label(25, 669, 'Log-rank', '3.6px ' + SANS),
  label(25, 680, 'p = 0.0026', '3.6px ' + SANS),
  label(12, 721.5, 'Number at risk', '4.2px ' + SANS),
  label(99, 583, 'Strata', '3px ' + SANS),
  label(228, 665, 'Strata', '3.2px ' + SANS, {rotation: Math.PI / 2, style: {textAlign: 'center'}}),
  label(538, 583, 'group', '3px ' + SANS),
  label(563, 596, '***', '4px ' + SANS, {style: {textAlign: 'center'}})
];

var option = {
  animation: false,
  backgroundColor: '#fff',
  textStyle: {fontFamily: SANS},
  grid: grids,
  xAxis: xAxes,
  yAxis: yAxes,
  visualMap: [{
    type: 'continuous', seriesIndex: heatIdx, min: -2, max: 4, dimension: 2,
    orient: 'horizontal', left: 626, top: 433, itemWidth: 11, itemHeight: 44,
    padding: 0, calculable: false, text: null, hoverLink: false,
    inRange: {color: ['#0000ff', '#8080ff', '#ffffff', '#ffd2d2', '#ffa4a4', '#ff5252', '#ff0000']}
  }],
  legend: [
    {data: ['Low', 'High'], orient: 'vertical', left: 625, top: 464, padding: 0, itemGap: 2.5,
      itemWidth: 6, itemHeight: 6, icon: 'circle', selectedMode: false,
      textStyle: {fontFamily: SERIF, fontSize: 6, color: '#000', padding: [0, 0, 0, -3]}},
    {data: ['Alive', 'Dead'], orient: 'vertical', left: 625, top: 488, padding: 0, itemGap: 2.5,
      itemWidth: 6, itemHeight: 6, icon: 'circle', selectedMode: false,
      textStyle: {fontFamily: SERIF, fontSize: 6, color: '#000', padding: [0, 0, 0, -3]}},
    {data: ['riskhigh', 'risklow'], orient: 'horizontal', left: 107, top: 581.5, padding: 0, itemGap: 3,
      itemWidth: 3.5, itemHeight: 3, icon: 'rect', selectedMode: false,
      textStyle: {fontSize: 3, color: '#000', padding: [0, 0, 0, -3]}},
    {data: rocNames, orient: 'vertical', left: 398, top: 722, padding: [2, 2, 2, 2], itemGap: 1.5,
      itemWidth: 7, itemHeight: 1.2, icon: 'rect', selectedMode: false,
      borderColor: '#000', borderWidth: 0.5,
      textStyle: {fontSize: 3.4, color: '#000', padding: [0, 0, 0, -3]}},
    {data: groupNames, orient: 'horizontal', left: 547, top: 581.2, padding: 0, itemGap: 3,
      itemWidth: 3.5, itemHeight: 3.5, icon: 'rect', selectedMode: false,
      textStyle: {fontSize: 3, color: '#000', padding: [0, 0, 0, -3]}}
  ],
  series: series,
  graphic: graphics
};

var chart = echarts.init(document.getElementById('fig'), null, {renderer: 'canvas'});
chart.setOption(option);
window.addEventListener('resize', function () { chart.resize(); });
</script>
</body>
</html>
